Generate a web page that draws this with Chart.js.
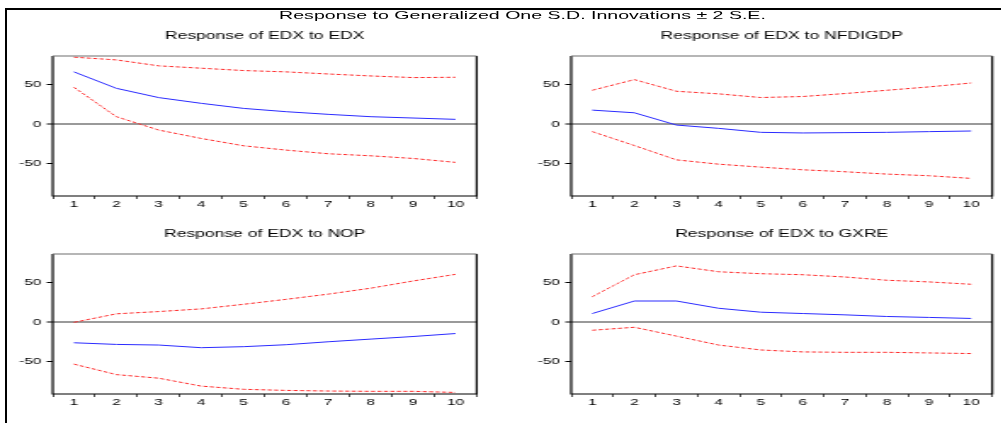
<!DOCTYPE html>
<html>
<head>
<meta charset="utf-8">
<script src="https://cdn.jsdelivr.net/npm/chart.js@4.4.1/dist/chart.umd.min.js"></script>
<style>
  html, body { margin: 0; background: #fff; width: 1001px; height: 423px; overflow: hidden; }
  #frame { position: absolute; left: 5px; top: 8px; width: 1000px; height: 420px;
           border-left: 2px solid #000; border-top: 2px solid #000; }
  #sheet { position: absolute; left: 0; top: 0; width: 589px; height: 423px;
           transform: scaleX(1.7); transform-origin: 0 0; }
  #sheet canvas { position: absolute; }
  #mainTitle { position: absolute; left: 107.35px; top: 7.8px; width: 400px; text-align: center;
               font: 11.5px "Liberation Sans", Arial, sans-serif; line-height: 14px; color: #000; white-space: nowrap; }
</style>
</head>
<body>
<div id="frame"></div>
<div id="sheet">
  <div id="mainTitle">Response to Generalized One S.D. Innovations ± 2 S.E.</div>
  <canvas id="c1"></canvas>
  <canvas id="c2"></canvas>
  <canvas id="c3"></canvas>
  <canvas id="c4"></canvas>
</div>
<script>
// periods after the shock
const periods = ['1', '2', '3', '4', '5', '6', '7', '8', '9', '10'];
const yTickValues = [-50, 0, 50];
const yMin = -92;
const yMax = 87;

// response of EDX to EDX
const edxToEdx = [66.7, 45.7, 33.8, 26.5, 20.0, 15.8, 12.4, 9.4, 7.7, 6.0];
const edxToEdxUp = [85.5, 82.0, 74.4, 71.4, 68.4, 66.7, 64.0, 61.5, 59.4, 59.8];
const edxToEdxLo = [47.0, 9.4, -7.7, -18.4, -27.8, -33.3, -38.0, -40.6, -44.0, -49.0];

// response of EDX to NFDIGDP
const edxToNfdi = [17.8, 14.4, -1.3, -5.5, -10.6, -11.4, -11.0, -10.6, -9.7, -8.9];
const edxToNfdiUp = [43.2, 56.8, 41.9, 38.6, 33.9, 35.2, 39.0, 43.2, 47.5, 52.5];
const edxToNfdiLo = [-9.7, -27.5, -45.8, -51.3, -55.1, -58.5, -61.0, -64.0, -66.1, -69.5];

// response of EDX to NOP
const edxToNop = [-26.5, -28.6, -29.4, -32.8, -31.5, -29.0, -25.2, -21.8, -18.5, -14.7];
const edxToNopUp = [-0.4, 10.5, 13.4, 16.8, 22.7, 29.0, 35.7, 43.3, 52.5, 61.0];
const edxToNopLo = [-53.8, -67.2, -71.8, -81.9, -86.0, -87.4, -88.2, -88.6, -88.6, -90.0];

// response of EDX to GXRE
const edxToGxre = [10.9, 26.9, 26.9, 17.6, 12.6, 10.9, 9.2, 7.1, 5.9, 4.6];
const edxToGxreUp = [32.4, 60.5, 71.8, 64.3, 61.8, 60.5, 57.6, 53.4, 51.3, 48.3];
const edxToGxreLo = [-10.5, -6.7, -18.0, -29.4, -35.7, -38.2, -38.7, -38.7, -39.5, -40.3];

const S = 1.7;      // horizontal stretch of #sheet
const YW = 22;      // y axis width
const XH = 20;      // x axis height
const FONT = '"Liberation Sans", Arial, sans-serif';
const RED = '#ff2a2a';
const BLUE = '#2b2bff';
const titleFont = { family: FONT, size: 10.3, weight: 'normal' };
const tickFont = { family: FONT, size: 9 };

// box around the plot area, top edge a bit lighter
const framePlugin = {
  id: 'frame',
  afterDraw(chart) {
    const { ctx, chartArea: a } = chart;
    ctx.save();
    ctx.lineWidth = 1.2;
    ctx.strokeStyle = '#000';
    ctx.beginPath();
    ctx.moveTo(a.left, a.top);
    ctx.lineTo(a.left, a.bottom);
    ctx.lineTo(a.right, a.bottom);
    ctx.lineTo(a.right, a.top);
    ctx.stroke();
    ctx.strokeStyle = '#6e6e6e';
    ctx.beginPath();
    ctx.moveTo(a.left, a.top);
    ctx.lineTo(a.right, a.top);
    ctx.stroke();
    ctx.restore();
  }
};

function drawPanel(id, title, irf, upper, lower, box) {
  const canvas = document.getElementById(id);
  const lh = titleFont.size * 1.2;
  const top = Math.round(box.titleY - 12);
  const padTop = box.titleY - top - lh / 2;
  const padBottom = box.top - top - padTop - lh;
  const plotLeft = box.left / S;
  const plotW = (box.right - box.left) / S;
  const w = Math.ceil(YW + plotW + 2);
  canvas.width = w;
  canvas.height = box.bottom - top + XH;
  canvas.style.left = (plotLeft - YW) + 'px';
  canvas.style.top = top + 'px';

  const band = (data) => ({
    data: data,
    borderColor: RED,
    borderWidth: 1,
    borderDash: [2.4, 1.4]
  });

  new Chart(canvas, {
    type: 'line',
    data: {
      labels: periods,
      datasets: [
        { data: irf, borderColor: BLUE, borderWidth: 1 },
        band(upper),
        band(lower)
      ]
    },
    options: {
      responsive: false,
      animation: false,
      layout: { padding: { left: 0, top: 0, bottom: 0, right: w - YW - plotW } },
      elements: { point: { radius: 0 }, line: { tension: 0 } },
      plugins: {
        legend: { display: false },
        tooltip: { enabled: false },
        title: {
          display: true,
          text: title,
          fullSize: false,
          color: '#000',
          font: titleFont,
          padding: { top: padTop, bottom: padBottom }
        }
      },
      scales: {
        x: {
          offset: true,
          border: { display: false },
          grid: { offset: true, drawOnChartArea: false, tickLength: 3, color: '#000', lineWidth: 0.7 },
          ticks: { color: '#000', font: tickFont, padding: 0, maxRotation: 0, autoSkip: false },
          afterFit: (s) => { s.height = XH; }
        },
        y: {
          min: yMin,
          max: yMax,
          border: { display: false },
          afterBuildTicks: (s) => { s.ticks = yTickValues.map(v => ({ value: v })); },
          grid: {
            tickLength: 3.5,
            color: (c) => (c.tick && c.tick.value === 0 ? '#9a9a9a' : 'rgba(0,0,0,0)'),
            lineWidth: (c) => (c.tick && c.tick.value === 0 ? 2 : 1),
            tickColor: '#000',
            tickWidth: 1
          },
          ticks: { color: '#000', font: tickFont, padding: 3.3 },
          afterFit: (s) => { s.width = YW; }
        }
      }
    },
    plugins: [framePlugin]
  });
}

drawPanel('c1', 'Response of EDX to EDX', edxToEdx, edxToEdxUp, edxToEdxLo,
  { left: 53, right: 477, top: 56, bottom: 196, titleY: 35.9 });
drawPanel('c2', 'Response of EDX to NFDIGDP', edxToNfdi, edxToNfdiUp, edxToNfdiLo,
  { left: 572, right: 993, top: 56, bottom: 196, titleY: 36.2 });
drawPanel('c3', 'Response of EDX to NOP', edxToNop, edxToNopUp, edxToNopLo,
  { left: 53, right: 477, top: 254, bottom: 394, titleY: 234.4 });
drawPanel('c4', 'Response of EDX to GXRE', edxToGxre, edxToGxreUp, edxToGxreLo,
  { left: 572, right: 993, top: 254, bottom: 394, titleY: 234.5 });
</script>
</body>
</html>
